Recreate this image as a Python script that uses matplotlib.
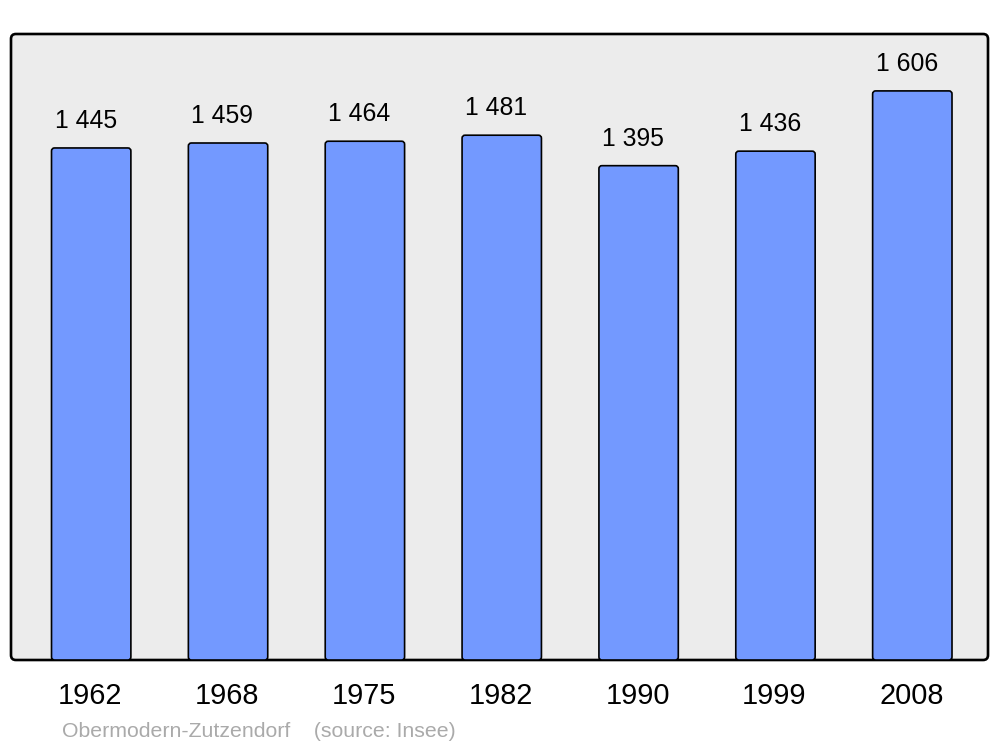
import matplotlib
matplotlib.use("Agg")
import matplotlib.pyplot as plt
from matplotlib.patches import FancyBboxPatch

plt.rcParams['font.family'] = ['Liberation Sans', 'DejaVu Sans']

## data
years = ["1962", "1968", "1975", "1982", "1990", "1999", "2008"]
population = [1445, 1459, 1464, 1481, 1395, 1436, 1606]
value_labels = ["1 445", "1 459", "1 464", "1 481", "1 395", "1 436", "1 606"]
footer = "Obermodern-Zutzendorf    (source: Insee)"

bar_color = "#7399ff"
back_color = "#ececec"

fig = plt.figure(figsize=(10, 7.47), dpi=100)
# axes fills the framed box
ax = fig.add_axes([11 / 1000, (747 - 660) / 747, 977 / 1000, 626 / 747])
ax.set_axis_off()

# rounded background frame
aspect = (977 / 1000 * 10) / (626 / 747 * 7.47)
frame = FancyBboxPatch((0, 0), 1, 1, boxstyle="round,pad=0,rounding_size=0.005",
                       mutation_aspect=aspect, transform=ax.transAxes,
                       facecolor=back_color, edgecolor="black", linewidth=1.9,
                       zorder=0, clip_on=False)
ax.add_patch(frame)

x = list(range(len(years)))
width = 0.58
ax.set_xlim(-0.586, 6.553)
ax.set_ylim(0, max(population) * 1.1)

bars = ax.bar(x, population, width=width, color=bar_color, edgecolor="black",
              linewidth=1.2, zorder=2)

# swap square bars for slightly rounded ones (same geometry)
x_per_px = (6.553 + 0.586) / 977
y_per_px = max(population) * 1.1 / 626
for b in bars:
    rb = FancyBboxPatch((b.get_x(), b.get_y()), b.get_width(), b.get_height(),
                        boxstyle="round,pad=0,rounding_size=%f" % (3 * x_per_px),
                        mutation_aspect=y_per_px / x_per_px,
                        facecolor=bar_color, edgecolor="black", linewidth=1.2,
                        zorder=2)
    ax.add_patch(rb)
    b.set_visible(False)

# value labels above bars
for xi, val, lab in zip(x, population, value_labels):
    ax.annotate(lab, (xi - width / 2, val), xytext=(3, 20),
                textcoords="offset pixels", ha="left", va="baseline",
                fontsize=17.8, color="black")

# year labels under the frame
for xi, yr in zip(x, years):
    ax.annotate(yr, (xi, 0), xytext=(-1, -44), textcoords="offset pixels",
                ha="center", va="baseline", fontsize=20.8, color="black",
                annotation_clip=False)

fig.text(62 / 1000, 1 - 737 / 747, footer, fontsize=15.3, color="#aaaaaa",
         ha="left", va="baseline")

fig.savefig("out.png", dpi=100, facecolor="white")
